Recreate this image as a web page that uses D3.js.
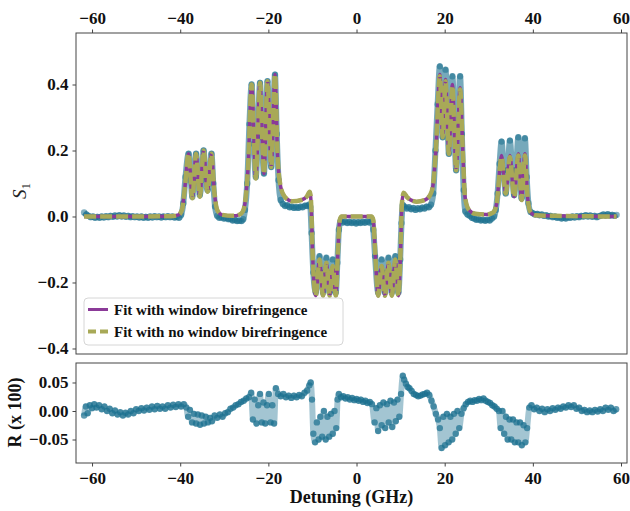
<!DOCTYPE html>
<html>
<head>
<meta charset="utf-8">
<script src="https://cdn.jsdelivr.net/npm/d3@7"></script>
<style>
  body { margin: 0; background: #fff; }
  svg text { font-family: "Liberation Serif", "Times New Roman", serif; }
</style>
</head>
<body>
<div id="chart"></div>
<script>
// measured S1 trace (GHz, S1), read along the scatter band
var dataX = [
  -61.8, -61.3, -60.8, -60.3, -59.8, -59.3, -58.8, -58.3, -57.8, -57.3, -56.8, -56.3, -55.8, -55.3, -54.8, -54.3,
  -53.8, -53.3, -52.8, -52.3, -51.8, -51.3, -50.8, -50.3, -49.8, -49.3, -48.8, -48.3, -47.8, -47.3, -46.8, -46.3,
  -45.8, -45.3, -44.8, -44.3, -43.8, -43.3, -42.8, -42.3, -41.8, -41.3, -40.8, -40.3, -39.8,
  -39.3, -38.8, -38.1, -37.6, -37.25, -36.9, -36.4, -35.95, -35.55, -35.15, -34.7, -34.25, -33.8, -33.35, -32.9, -32.5, -32.1,
  -31.6, -31.1, -30.6, -30.1, -29.6, -29.1, -28.6, -28.1, -27.6, -27.1, -26.6, -26.1, -25.7, -25.3,
  -24.8, -24.3, -23.8, -23.3, -22.85, -22.4, -21.9, -21.45, -21.0, -20.6, -20.2, -19.8, -19.35, -18.95, -18.5, -18.1, -17.7, -17.2,
  -16.7, -16.2, -15.7, -15.2, -14.7, -14.2, -13.7, -13.2, -12.7, -12.2, -11.7, -11.2, -10.8, -10.5,
  -10.2, -9.8, -9.25, -8.8, -8.4, -8.0, -7.6, -7.2, -6.85, -6.5, -6.1, -5.75, -5.4, -5.05, -4.7, -4.35, -4.0,
  -3.6, -3.1, -2.6, -2.1, -1.6, -1.1, -0.6, -0.1, 0.4, 0.9, 1.4, 1.9, 2.4, 2.9, 3.4,
  3.8, 4.2, 4.9, 5.3, 5.7, 6.1, 6.45, 6.85, 7.25, 7.6, 8.0, 8.4, 8.8, 9.15, 9.5, 9.9, 10.2,
  10.5, 10.9, 11.4, 11.9, 12.4, 12.9, 13.4, 13.9, 14.4, 14.9, 15.4, 15.9, 16.4, 16.9, 17.4,
  17.9, 18.4, 18.9, 19.25, 19.55, 19.85, 20.2, 20.6, 20.95, 21.35, 21.75, 22.2, 22.6, 23.0, 23.5, 23.9, 24.3,
  24.7, 25.2, 25.7, 26.2, 26.7, 27.2, 27.7, 28.2, 28.7, 29.2, 29.7, 30.2, 30.7, 31.2, 31.6,
  32.0, 32.45, 32.9, 33.4, 33.85, 34.3, 34.8, 35.3, 35.75, 36.2, 36.7, 37.1, 37.45, 37.8, 38.2, 38.6, 39.0,
  39.5, 40.0, 40.5, 41.0, 41.5, 42.0, 42.5, 43.0, 43.5, 44.0, 44.5, 45.0, 45.5, 46.0, 46.5, 47.0,
  47.5, 48.0, 48.5, 49.0, 49.5, 50.0, 50.5, 51.0, 51.5, 52.0, 52.5, 53.0, 53.5, 54.0, 54.5, 55.0,
  55.5, 56.0, 56.5, 57.0, 57.5, 58.0, 58.5, 59.0
];
var dataS1 = [
  0.012, 0.006, 0.002, -0.002, 0.0, -0.004, -0.001, -0.004, 0.0, -0.003, 0.001, -0.002, 0.002, -0.001, 0.003, 0.0,
  0.004, 0.0, 0.003, -0.001, 0.002, -0.002, 0.001, -0.002, 0.0, -0.003, 0.0, -0.004, -0.001, -0.004, 0.0, -0.003,
  0.001, -0.002, 0.0, -0.003, 0.0, -0.002, 0.001, -0.002, 0.0, -0.003, -0.001, -0.004, 0.005,
  0.04, 0.12, 0.19, 0.11, 0.06, 0.11, 0.19, 0.11, 0.065, 0.11, 0.2, 0.12, 0.08, 0.12, 0.19, 0.1, 0.03,
  0.002, -0.004, -0.002, -0.006, -0.004, -0.008, -0.007, -0.012, -0.01, -0.014, -0.012, -0.014, -0.008, 0.02,
  0.1, 0.28, 0.40, 0.22, 0.12, 0.24, 0.405, 0.24, 0.13, 0.26, 0.41, 0.27, 0.15, 0.28, 0.43, 0.25, 0.11, 0.05,
  0.038, 0.032, 0.034, 0.028, 0.03, 0.026, 0.029, 0.026, 0.03, 0.028, 0.033, 0.032, 0.036, 0.03,
  -0.05, -0.17, -0.23, -0.17, -0.12, -0.17, -0.23, -0.17, -0.125, -0.17, -0.23, -0.17, -0.13, -0.17, -0.23, -0.14, -0.04,
  -0.014, -0.018, -0.015, -0.02, -0.016, -0.02, -0.017, -0.021, -0.017, -0.02, -0.016, -0.019, -0.015, -0.018, -0.014,
  -0.04, -0.12, -0.23, -0.17, -0.13, -0.17, -0.23, -0.17, -0.125, -0.17, -0.23, -0.17, -0.12, -0.17, -0.23, -0.13, -0.02,
  0.035, 0.03, 0.024, 0.028, 0.022, 0.026, 0.02, 0.025, 0.022, 0.027, 0.024, 0.03, 0.028, 0.036, 0.07,
  0.2, 0.34, 0.455, 0.33, 0.24, 0.33, 0.445, 0.3, 0.19, 0.3, 0.425, 0.27, 0.14, 0.27, 0.425, 0.25, 0.08,
  0.015, 0.006, 0.002, -0.004, -0.006, -0.01, -0.008, -0.012, -0.01, -0.013, -0.01, -0.012, -0.006, 0.0, 0.02,
  0.07, 0.16, 0.227, 0.14, 0.07, 0.14, 0.23, 0.14, 0.065, 0.14, 0.24, 0.13, 0.055, 0.13, 0.237, 0.12, 0.04,
  0.014, 0.01, 0.006, 0.008, 0.004, 0.006, 0.002, 0.004, 0.0, 0.002, -0.002, 0.0, -0.004, -0.002, -0.006, -0.003,
  -0.006, -0.002, -0.004, 0.0, -0.003, 0.001, -0.002, 0.002, 0.0, 0.004, 0.0, 0.003, -0.001, 0.002, -0.002, 0.001,
  0.003, 0.006, 0.003, 0.007, 0.003, 0.005, 0.002, 0.005
];

// fit curves, read at peaks, troughs and shoulders
var fitX = [
  -61.8, -50, -42, -40.5, -39.6, -39.0, -38.1, -37.25, -36.4, -35.55, -34.7, -33.8, -32.9, -32.3, -31.6, -30.5,
  -28, -26.5, -25.8, -25.2, -24.6, -23.8, -22.85, -21.9, -21.0, -20.2, -19.35, -18.5, -17.9, -17.2, -16.3, -14.5,
  -12.5, -11.3, -10.6, -10.3, -10.0, -9.25, -8.4, -7.6, -6.85, -6.1, -5.4, -4.7, -4.2, -3.8, -3.4, 0,
  3.4, 3.8, 4.2, 4.9, 5.7, 6.45, 7.25, 8.0, 8.8, 9.5, 10.0, 10.3, 10.7, 11.5, 13.6, 15.5,
  16.6, 17.3, 18.0, 18.9, 19.55, 20.2, 20.95, 21.75, 22.6, 23.5, 24.1, 24.6, 25.5, 27, 29.5, 31.0,
  31.8, 32.9, 33.85, 34.8, 35.75, 36.7, 37.45, 38.2, 38.8, 39.4, 40.5, 45, 59
];
var fitWindow = [
  0.0, 0.0, 0.001, 0.004, 0.02, 0.08, 0.19, 0.055, 0.19, 0.06, 0.2, 0.075, 0.19, 0.08, 0.02, 0.005,
  0.002, 0.006, 0.015, 0.05, 0.15, 0.40, 0.115, 0.405, 0.13, 0.41, 0.15, 0.43, 0.18, 0.09, 0.06, 0.046,
  0.05, 0.06, 0.075, 0.04, -0.1, -0.24, -0.13, -0.24, -0.14, -0.24, -0.15, -0.24, -0.1, -0.01, 0.0, 0.0,
  0.0, -0.01, -0.1, -0.24, -0.15, -0.24, -0.14, -0.24, -0.13, -0.24, -0.1, 0.04, 0.072, 0.058, 0.045, 0.05,
  0.063, 0.09, 0.2, 0.43, 0.24, 0.415, 0.19, 0.4, 0.14, 0.39, 0.2, 0.06, 0.02, 0.008, 0.006, 0.012,
  0.04, 0.185, 0.07, 0.185, 0.06, 0.19, 0.05, 0.19, 0.06, 0.015, 0.004, 0.002, 0.0
];
var fitNoWindow = [
  0.0, 0.0, 0.001, 0.004, 0.02, 0.08, 0.19, 0.055, 0.19, 0.06, 0.2, 0.075, 0.19, 0.08, 0.02, 0.005,
  0.002, 0.006, 0.015, 0.05, 0.15, 0.40, 0.115, 0.405, 0.13, 0.41, 0.15, 0.43, 0.18, 0.09, 0.06, 0.046,
  0.05, 0.06, 0.075, 0.04, -0.1, -0.24, -0.13, -0.24, -0.14, -0.24, -0.15, -0.24, -0.1, -0.01, 0.0, 0.0,
  0.0, -0.01, -0.1, -0.24, -0.15, -0.24, -0.14, -0.24, -0.13, -0.24, -0.1, 0.04, 0.072, 0.058, 0.045, 0.05,
  0.063, 0.09, 0.2, 0.425, 0.24, 0.41, 0.19, 0.395, 0.14, 0.385, 0.2, 0.06, 0.02, 0.008, 0.006, 0.012,
  0.04, 0.18, 0.07, 0.18, 0.06, 0.185, 0.05, 0.185, 0.06, 0.015, 0.004, 0.002, 0.0
];

// residuals R (x 100)
var residX = [
  -61.8, -61.4, -61.0, -60.5, -60.0, -59.5, -59.0, -58.4, -57.8, -57.2, -56.6, -56.0, -55.4, -54.8, -54.2, -53.6,
  -53.0, -52.4, -51.8, -51.2, -50.6, -50.0, -49.4, -48.8, -48.2, -47.6, -47.0, -46.4, -45.8, -45.2, -44.6, -44.0,
  -43.4, -42.8, -42.2, -41.6, -41.0, -40.4, -39.8, -39.2, -38.6,
  -38.2, -37.8, -37.3, -36.9, -36.4, -36.0, -35.5, -35.1, -34.6, -34.2, -33.7, -33.2, -32.8,
  -32.2, -31.6, -31.0, -30.4, -29.8, -29.2, -28.6, -28.0, -27.4, -26.8, -26.2, -25.6, -25.0, -24.4,
  -23.9, -23.5, -23.1, -22.7, -22.3, -21.9, -21.5, -21.1, -20.7, -20.3, -19.9, -19.5, -19.1, -18.7, -18.3,
  -17.8, -17.2, -16.6, -16.0, -15.4, -14.8, -14.2, -13.6, -13.0, -12.4, -11.8, -11.2, -10.7, -10.4, -10.1,
  -9.8, -9.4, -9.0, -8.6, -8.2, -7.8, -7.4, -7.0, -6.6, -6.2, -5.8, -5.4, -5.0, -4.6, -4.3, -4.0,
  -3.5, -3.0, -2.5, -2.0, -1.5, -1.0, -0.5, 0.0, 0.5, 1.0, 1.5, 2.0, 2.5, 3.0, 3.5,
  4.1, 4.5, 4.9, 5.3, 5.7, 6.1, 6.5, 6.9, 7.3, 7.7, 8.1, 8.5, 8.9, 9.3, 9.7, 10.1,
  10.5, 10.8, 11.2, 11.6, 12.0, 12.5, 13.0, 13.5, 14.0, 14.5, 15.0, 15.5, 16.0, 16.5, 17.0, 17.5, 18.0, 18.5,
  18.9, 19.3, 19.7, 20.1, 20.5, 20.9, 21.3, 21.7, 22.1, 22.5, 22.9, 23.3,
  23.8, 24.3, 24.8, 25.3, 25.8, 26.3, 26.8, 27.3, 27.8, 28.3, 28.8, 29.3, 29.8, 30.3, 30.8, 31.3, 31.8, 32.3,
  32.7, 33.1, 33.5, 33.9, 34.3, 34.7, 35.1, 35.5, 35.9, 36.3, 36.7, 37.1, 37.5, 37.9, 38.3, 38.7,
  39.2, 39.7, 40.3, 40.9, 41.5, 42.1, 42.7, 43.3, 43.9, 44.5, 45.1, 45.7, 46.3, 46.9, 47.5, 48.1,
  48.7, 49.3, 49.9, 50.5, 51.1, 51.7, 52.3, 52.9, 53.5, 54.1, 54.7, 55.3, 55.9, 56.5, 57.1, 57.7, 58.3, 58.9
];
var residVals = [
  -0.008, 0.008, -0.004, 0.01, 0.005, 0.012, 0.006, 0.01, 0.003, 0.008, 0.0, 0.004, -0.004, 0.001, -0.006, -0.002,
  -0.008, -0.003, -0.006, 0.0, -0.004, 0.003, 0.0, 0.005, 0.001, 0.006, 0.002, 0.008, 0.003, 0.009, 0.004, 0.008,
  0.004, 0.01, 0.006, 0.011, 0.007, 0.012, 0.008, 0.012, 0.006,
  -0.01, 0.002, -0.02, -0.005, -0.022, -0.006, -0.024, -0.008, -0.022, -0.01, -0.02, -0.012, -0.018,
  -0.008, -0.012, -0.006, -0.01, -0.004, -0.002, 0.004, 0.006, 0.01, 0.012, 0.016, 0.018, 0.022, 0.024,
  0.032, -0.015, 0.02, -0.022, 0.01, 0.03, -0.02, 0.015, -0.022, 0.01, 0.03, -0.02, 0.01, -0.022, 0.04,
  0.03, 0.026, 0.03, 0.024, 0.027, 0.023, 0.027, 0.024, 0.028, 0.026, 0.032, 0.036, 0.045, 0.05, 0.02,
  -0.04, -0.055, -0.02, -0.05, -0.01, -0.045, 0.0, -0.05, -0.01, -0.045, -0.005, -0.04, 0.0, -0.03, 0.02, 0.03,
  0.024, 0.026, 0.022, 0.024, 0.02, 0.023, 0.019, 0.021, 0.018, 0.02, 0.016, 0.018, 0.014, 0.016, 0.012,
  -0.02, 0.005, -0.035, 0.01, -0.025, 0.015, -0.03, 0.012, -0.02, 0.018, -0.028, 0.015, -0.018, 0.02, -0.01, 0.03,
  0.062, 0.055, 0.048, 0.042, 0.04, 0.035, 0.03, 0.028, 0.026, 0.027, 0.029, 0.03, 0.032, 0.028, 0.018, 0.008, -0.005, -0.015,
  -0.03, -0.065, -0.01, -0.06, -0.005, -0.055, -0.01, -0.05, -0.005, -0.04, 0.0, -0.03,
  -0.005, 0.005, 0.012, 0.016, 0.018, 0.016, 0.019, 0.018, 0.021, 0.019, 0.022, 0.018, 0.016, 0.014, 0.01, 0.008, 0.004, 0.0,
  -0.03, 0.0, -0.04, -0.01, -0.05, -0.015, -0.05, -0.015, -0.055, -0.02, -0.055, -0.02, -0.06, -0.025, -0.055, -0.03,
  0.006, 0.01, 0.003, 0.006, 0.0, 0.004, -0.002, 0.003, 0.0, 0.005, 0.002, 0.006, 0.004, 0.008, 0.006, 0.01,
  0.007, 0.01, 0.004, 0.006, 0.0, 0.002, -0.002, 0.001, -0.002, 0.002, -0.001, 0.003, 0.0, 0.006, 0.002, 0.006, 0.0, 0.003
];

var topTicks = [-60, -40, -20, 0, 20, 40, 60];
var s1Ticks = [-0.4, -0.2, 0.0, 0.2, 0.4];
var rTicks = [-0.05, 0.0, 0.05];
var legendLabels = ["Fit with window birefringence", "Fit with no window birefringence"];

var teal = "#1a6f8e", purple = "#8b3a98", olive = "#a8a957";
var width = 630, height = 511;
var left = 76, right = 627;
var topBox = {y0: 33, y1: 354};
var botBox = {y0: 363, y1: 463};

var x = d3.scaleLinear().domain([-63.64, 61.36]).range([left, right]);
var yTop = d3.scaleLinear().domain([-0.4167, 0.5561]).range([topBox.y1, topBox.y0]);
var yBot = d3.scaleLinear().domain([-0.0912, 0.0842]).range([botBox.y1, botBox.y0]);

var svg = d3.select("#chart").append("svg")
    .attr("width", width)
    .attr("height", height)
    .style("background", "#fff");

var defs = svg.append("defs");
defs.append("clipPath").attr("id", "clipTop").append("rect")
    .attr("x", left).attr("y", topBox.y0).attr("width", right - left).attr("height", topBox.y1 - topBox.y0);
defs.append("clipPath").attr("id", "clipBot").append("rect")
    .attr("x", left).attr("y", botBox.y0).attr("width", right - left).attr("height", botBox.y1 - botBox.y0);

// ---- top panel
var measured = d3.zip(dataX, dataS1);
var gTop = svg.append("g").attr("clip-path", "url(#clipTop)");

gTop.append("path")
    .datum(measured)
    .attr("fill", "none")
    .attr("stroke", teal)
    .attr("stroke-opacity", 0.6)
    .attr("stroke-width", 6)
    .attr("stroke-linejoin", "round")
    .attr("d", d3.line().x(d => x(d[0])).y(d => yTop(d[1])).curve(d3.curveMonotoneX));

gTop.selectAll("circle")
    .data(measured)
    .enter().append("circle")
    .attr("cx", d => x(d[0]))
    .attr("cy", d => yTop(d[1]))
    .attr("r", 3.2)
    .attr("fill", teal)
    .attr("fill-opacity", 0.55);

var fitLine = d3.line().x(d => x(d[0])).y(d => yTop(d[1])).curve(d3.curveMonotoneX);

gTop.append("path")
    .datum(d3.zip(fitX, fitWindow))
    .attr("fill", "none")
    .attr("stroke", purple)
    .attr("stroke-width", 3.5)
    .attr("d", fitLine);

gTop.append("path")
    .datum(d3.zip(fitX, fitNoWindow))
    .attr("fill", "none")
    .attr("stroke", olive)
    .attr("stroke-width", 4.5)
    .attr("stroke-dasharray", "12,4")
    .attr("d", fitLine);

svg.append("rect")
    .attr("x", left).attr("y", topBox.y0)
    .attr("width", right - left).attr("height", topBox.y1 - topBox.y0)
    .attr("fill", "none").attr("stroke", "#444").attr("stroke-width", 1);

var axTop = svg.append("g")
    .attr("transform", "translate(0," + topBox.y0 + ")")
    .call(d3.axisTop(x).tickValues(topTicks).tickSize(3.5).tickPadding(6).tickFormat(d3.format("d")));

var axS1 = svg.append("g")
    .attr("transform", "translate(" + left + ",0)")
    .call(d3.axisLeft(yTop).tickValues(s1Ticks).tickSize(3.5).tickPadding(4).tickFormat(d3.format(".1f")));

// ---- bottom panel
var resid = d3.zip(residX, residVals);
var gBot = svg.append("g").attr("clip-path", "url(#clipBot)");

gBot.append("path")
    .datum(resid)
    .attr("fill", "none")
    .attr("stroke", teal)
    .attr("stroke-opacity", 0.4)
    .attr("stroke-width", 6)
    .attr("stroke-linejoin", "round")
    .attr("d", d3.line().x(d => x(d[0])).y(d => yBot(d[1])).curve(d3.curveMonotoneX));

gBot.selectAll("circle")
    .data(resid)
    .enter().append("circle")
    .attr("cx", d => x(d[0]))
    .attr("cy", d => yBot(d[1]))
    .attr("r", 3.2)
    .attr("fill", teal)
    .attr("fill-opacity", 0.7);

svg.append("rect")
    .attr("x", left).attr("y", botBox.y0)
    .attr("width", right - left).attr("height", botBox.y1 - botBox.y0)
    .attr("fill", "none").attr("stroke", "#444").attr("stroke-width", 1);

var axBottom = svg.append("g")
    .attr("transform", "translate(0," + botBox.y1 + ")")
    .call(d3.axisBottom(x).tickValues(topTicks).tickSize(3.5).tickPadding(5).tickFormat(d3.format("d")));

var axR = svg.append("g")
    .attr("transform", "translate(" + left + ",0)")
    .call(d3.axisLeft(yBot).tickValues(rTicks).tickSize(3.5).tickPadding(4).tickFormat(d3.format(".2f")));

[axTop, axS1, axBottom, axR].forEach(function (ax) {
    ax.select(".domain").remove();
    ax.selectAll(".tick line").attr("stroke", "#444");
    ax.selectAll(".tick text")
        .attr("fill", "#111")
        .style("font-family", "'Liberation Serif', serif")
        .style("font-weight", "bold")
        .style("font-size", "17px");
});

// ---- axis labels
var s1Label = svg.append("text")
    .attr("transform", "translate(26,191) rotate(-90)")
    .attr("text-anchor", "middle")
    .style("font-size", "19px")
    .style("font-style", "italic")
    .attr("fill", "#222");
s1Label.append("tspan").text("S");
s1Label.append("tspan").attr("dy", 4).style("font-size", "13px").style("font-style", "normal").text("1");

svg.append("text")
    .attr("transform", "translate(21,412.5) rotate(-90)")
    .attr("text-anchor", "middle")
    .style("font-size", "18px")
    .style("font-weight", "bold")
    .attr("fill", "#111")
    .text("R (x 100)");

svg.append("text")
    .attr("x", (left + right) / 2)
    .attr("y", 503)
    .attr("text-anchor", "middle")
    .style("font-size", "18px")
    .style("font-weight", "bold")
    .attr("fill", "#111")
    .text("Detuning (GHz)");

// ---- legend
var legend = svg.append("g").attr("transform", "translate(84,298)");
legend.append("rect")
    .attr("width", 259).attr("height", 47).attr("rx", 4)
    .attr("fill", "#fff").attr("fill-opacity", 0.85)
    .attr("stroke", "#d6d6d6");

var rows = legend.selectAll(".row")
    .data(legendLabels)
    .enter().append("g")
    .attr("class", "row")
    .attr("transform", (d, i) => "translate(0," + (11.5 + i * 22) + ")");

rows.append("line")
    .attr("x1", 4).attr("x2", 24)
    .attr("stroke", (d, i) => i === 0 ? purple : olive)
    .attr("stroke-width", (d, i) => i === 0 ? 3 : 4)
    .attr("stroke-dasharray", (d, i) => i === 0 ? null : "8,4");

rows.append("text")
    .attr("x", 30)
    .attr("dy", "0.35em")
    .style("font-size", "15px")
    .style("font-weight", "bold")
    .attr("fill", "#111")
    .text(d => d);
</script>
</body>
</html>
